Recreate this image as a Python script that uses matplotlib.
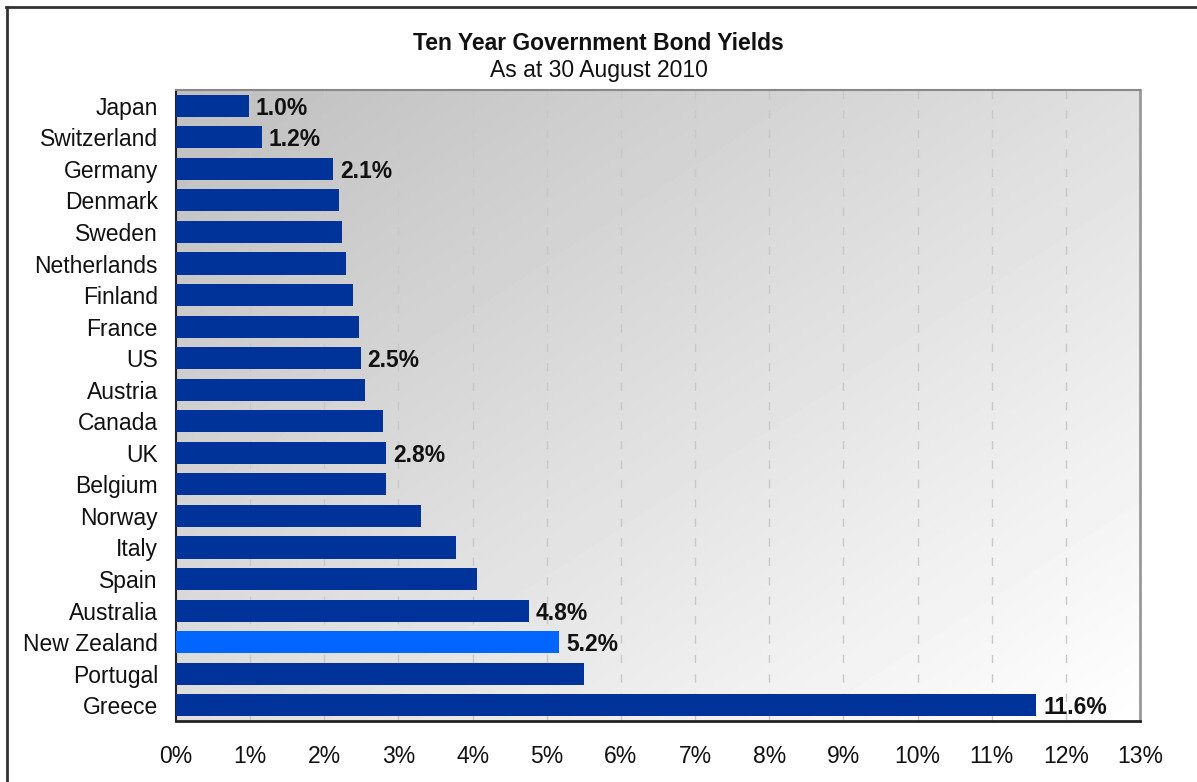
import matplotlib
matplotlib.use("Agg")
import matplotlib.pyplot as plt
from matplotlib.lines import Line2D
import numpy as np

plt.rcParams['font.family'] = ['Liberation Sans', 'DejaVu Sans']

# data, top to bottom as drawn
countries = ['Japan', 'Switzerland', 'Germany', 'Denmark', 'Sweden',
             'Netherlands', 'Finland', 'France', 'US', 'Austria', 'Canada',
             'UK', 'Belgium', 'Norway', 'Italy', 'Spain', 'Australia',
             'New Zealand', 'Portugal', 'Greece']
yields = [0.98, 1.16, 2.12, 2.20, 2.24, 2.29, 2.39, 2.47, 2.49, 2.55, 2.79,
          2.83, 2.83, 3.30, 3.78, 4.06, 4.76, 5.17, 5.50, 11.60]
labelled = ['Japan', 'Switzerland', 'Germany', 'US', 'UK', 'Australia',
            'New Zealand', 'Greece']
highlight = 'New Zealand'
xticks = list(range(0, 14))

dark_blue = '#003399'
bright_blue = '#0066ff'

fig = plt.figure(figsize=(11.97, 7.82), dpi=100)
ax = fig.add_axes([176 / 1197, 1 - 721 / 782, (1140 - 176) / 1197, (721 - 90) / 782])

# diagonal grey-to-white background
n = 200
u, v = np.meshgrid(np.linspace(0, 1, n), np.linspace(0, 1, n))
shade = 0.75 + 0.25 * (u + v) / 2
ax.imshow(shade, cmap='gray', vmin=0, vmax=1, extent=(0, 13, 19.5, -0.5),
          aspect='auto', zorder=0, interpolation='bilinear')

ypos = np.arange(len(countries))
colors = [bright_blue if c == highlight else dark_blue for c in countries]
ax.barh(ypos, yields, height=0.7, color=colors, zorder=3)

for y, c, val in zip(ypos, countries, yields):
    if c in labelled:
        ax.annotate(f'{val:.1f}%', (val, y), xytext=(5, 0),
                    textcoords='offset points', va='center_baseline', ha='left',
                    fontsize=16.5, fontweight='bold', color='#111111', zorder=4)

ax.set_xlim(0, 13)
ax.set_ylim(19.5, -0.5)
ax.set_xticks(xticks)
ax.set_xticklabels([f'{t}%' for t in xticks])
ax.set_yticks(ypos)
ax.set_yticklabels(countries)
ax.tick_params(axis='both', length=0, labelsize=16.5, colors='#111111')
ax.tick_params(axis='x', pad=17)
ax.tick_params(axis='y', pad=13)

ax.xaxis.grid(True, color='#c8c8c8', linestyle=(0, (6, 8)), linewidth=1, zorder=1)
ax.set_axisbelow(True)

ax.spines['left'].set_color('#222222')
ax.spines['left'].set_linewidth(1.5)
ax.spines['bottom'].set_color('#222222')
ax.spines['bottom'].set_linewidth(2)
ax.spines['top'].set_color('#888888')
ax.spines['top'].set_linewidth(1.5)
ax.spines['right'].set_color('#999999')
ax.spines['right'].set_linewidth(2)

fig.text(0.5, 1 - 43 / 782, 'Ten Year Government Bond Yields', ha='center',
         va='center', fontsize=16.5, fontweight='bold', color='#111111')
fig.text(0.5, 1 - 71 / 782, 'As at 30 August 2010', ha='center',
         va='center', fontsize=16.5, color='#111111')

# outer frame, cropped on the right and bottom
fig.add_artist(Line2D([6 / 1197, 1], [1 - 7 / 782, 1 - 7 / 782],
                      transform=fig.transFigure, color='#333333', lw=2))
fig.add_artist(Line2D([7 / 1197, 7 / 1197], [0, 1 - 7 / 782],
                      transform=fig.transFigure, color='#333333', lw=2))

fig.savefig('out.png', dpi=100)
